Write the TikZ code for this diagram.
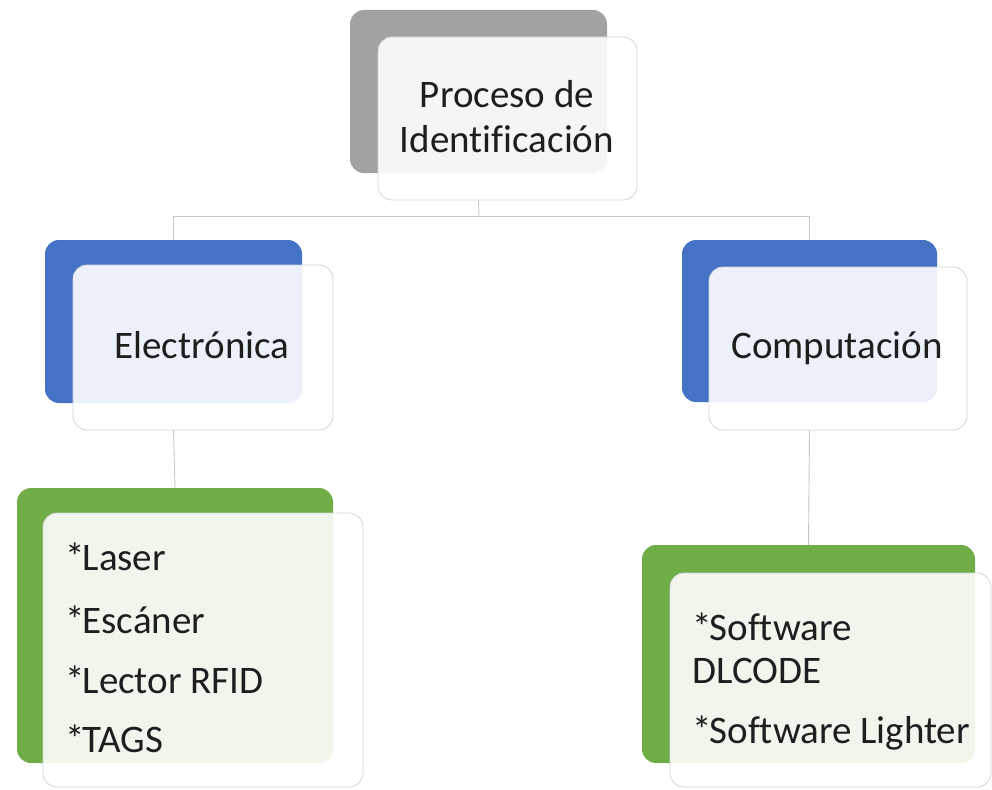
\documentclass[tikz,border=0pt]{standalone}
\usepackage{fontspec}
\setmainfont[Ligatures={NoCommon}]{Carlito}
\definecolor{grayback}{HTML}{A2A2A2}
\definecolor{blueback}{HTML}{4472C4}
\definecolor{greenback}{HTML}{70AD47}
\definecolor{linkgray}{HTML}{C3C7D0}
\definecolor{frameline}{HTML}{D2D5DA}
\definecolor{ink}{HTML}{1E1E1E}
\newcommand{\bul}{*\kern-2pt}
\begin{document}
\begin{tikzpicture}[x=1pt,y=-1pt,
  backbox/.style={rectangle, rounded corners=14pt, inner sep=0pt, outer sep=0pt, draw=none},
  frontbox/.style={rectangle, rounded corners=14pt, inner sep=0pt, outer sep=0pt,
    draw=frameline, line width=0.8pt, fill=white, fill opacity=0.9, draw opacity=1},
  connector/.style={draw=linkgray, line width=0.9pt},
  txt/.style={font=\fontsize{39}{44}\selectfont, text=ink, inner sep=0pt}]
\useasboundingbox (0,0) rectangle (992,789);

% back (coloured) panels
\node[backbox, fill=grayback, minimum width=257pt, minimum height=163pt] (topback) at (478.5,91.5) {};
\node[backbox, fill=blueback, minimum width=257pt, minimum height=163pt] (elecback) at (173.5,321.5) {};
\node[backbox, fill=blueback, minimum width=255pt, minimum height=162pt] (compback) at (809.5,321) {};
\node[backbox, fill=greenback, minimum width=316pt, minimum height=275pt] (elistback) at (175,625.5) {};
\node[backbox, fill=greenback, minimum width=333pt, minimum height=218pt] (clistback) at (808.5,654) {};

% hierarchy connectors
\coordinate (hub) at (479,216);
\draw[connector] (topback.center |- 0,200) -- (hub);
\draw[connector] (elecback.north) -- (elecback.north |- hub) -- (compback.north |- hub) -- (compback.north);
\draw[connector] (elecback.center |- 0,430) -- (elistback.north);
\draw[connector] (compback.center |- 0,430) -- (clistback.north);

% front (text) panels
\node[frontbox, minimum width=259pt, minimum height=163pt] (topfront) at (507.5,118.5) {};
\node[frontbox, minimum width=260pt, minimum height=165pt] (elecfront) at (203,347.5) {};
\node[frontbox, minimum width=258pt, minimum height=163pt] (compfront) at (838,348.5) {};
\node[frontbox, minimum width=320pt, minimum height=274pt] (elistfront) at (203,650) {};
\node[frontbox, minimum width=321pt, minimum height=214pt] (clistfront) at (830.5,680) {};

% texts
\node[txt, anchor=base] (t1) at (507,107) {Proceso de};
\node[txt, anchor=base] (t2) at (507,152) {Identificación};
\node[txt, anchor=base] (t3) at (202,358) {Electrónica};
\node[txt, anchor=base] (t4) at (837,358) {Computación};

\node[txt, anchor=base west] (e1) at (65,570) {\bul Laser};
\node[txt, anchor=base west] (e2) at (65,633) {\bul Escáner};
\node[txt, anchor=base west] (e3) at (65,693) {\bul Lector RFID};
\node[txt, anchor=base west] (e4) at (65,752) {\bul TAGS};

\node[txt, anchor=base west] (c1) at (692,640) {\bul Software};
\node[txt, anchor=base west] (c2) at (692,683) {DLCODE};
\node[txt, anchor=base west] (c3) at (692,743) {\bul Software Lighter};
\end{tikzpicture}
\end{document}
